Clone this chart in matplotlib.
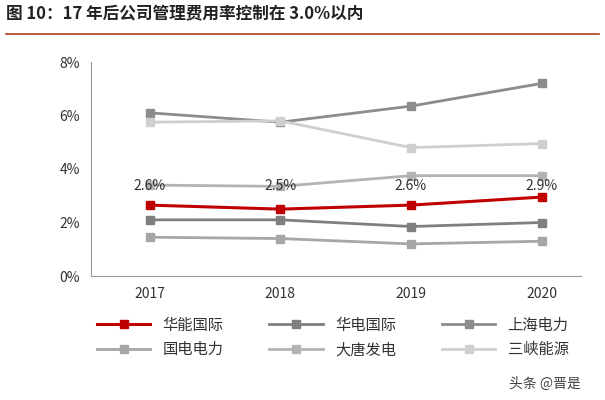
import matplotlib
matplotlib.use("Agg")
import matplotlib.pyplot as plt
from matplotlib.lines import Line2D
plt.rcParams['font.family'] = ['Noto Sans CJK SC', 'DejaVu Sans']

years = ["2017", "2018", "2019", "2020"]
huaneng = [2.65, 2.5, 2.65, 2.95]
huadian = [2.1, 2.1, 1.85, 2.0]
shanghai = [6.1, 5.75, 6.35, 7.2]
guodian = [1.45, 1.4, 1.2, 1.3]
datang = [3.4, 3.35, 3.75, 3.75]
sanxia = [5.75, 5.8, 4.8, 4.95]
labels = ["2.6%", "2.5%", "2.6%", "2.9%"]
names = ["华能国际", "华电国际", "上海电力", "国电电力", "大唐发电", "三峡能源"]

fig = plt.figure(figsize=(6.05, 4.0), dpi=100)
ax = fig.add_axes([0.15, 0.31, 0.81, 0.535])
x = range(len(years))
series = [huaneng, huadian, shanghai, guodian, datang, sanxia]
colors = ["#c00000", "#7f7f7f", "#8c8c8c", "#a6a6a6", "#b3b3b3", "#cfcfcf"]
lws = [2.2, 2, 2, 2, 2, 2]
handles = []
for s, c, lw, n in zip(series, colors, lws, names):
    ax.plot(x, s, color=c, lw=lw, marker='s', ms=6, zorder=3 if c == "#c00000" else 2)
    handles.append(Line2D([], [], color=c, lw=lw, marker='s', ms=6))
for i, (v, t) in enumerate(zip(huaneng, labels)):
    ax.text(i, 3.35, t, ha='center', va='center', fontsize=10, color='#333333', zorder=4)
ax.set_xlim(-0.45, 3.3)
ax.set_ylim(0, 8)
ax.set_yticks([0, 2, 4, 6, 8])
ax.set_yticklabels([f"{v}%" for v in [0, 2, 4, 6, 8]], fontsize=10, color='#333333')
ax.set_xticks(list(x))
ax.set_xticklabels(years, fontsize=10, color='#333333')
for sp in ['top', 'right']:
    ax.spines[sp].set_visible(False)
for sp in ['left', 'bottom']:
    ax.spines[sp].set_color('#999999')
ax.tick_params(length=0, pad=8)
order = [0, 3, 1, 4, 2, 5]
fig.legend([handles[i] for i in order], [names[i] for i in order], loc='lower center',
           bbox_to_anchor=(0.55, 0.07), ncol=3,
           frameon=False, fontsize=11, columnspacing=3, handlelength=3.5, labelcolor='#333333')
fig.text(0.01, 0.955, "图 10：17 年后公司管理费用率控制在 3.0%以内", fontsize=12, fontweight='bold', color='#222222')
fig.add_artist(Line2D([0.01, 0.99], [0.915, 0.915], color='#b04020', lw=1.2))
fig.text(0.90, 0.03, "头条 @晋是", fontsize=10, color='#444444', ha='center')
fig.savefig("out.png", dpi=100)
